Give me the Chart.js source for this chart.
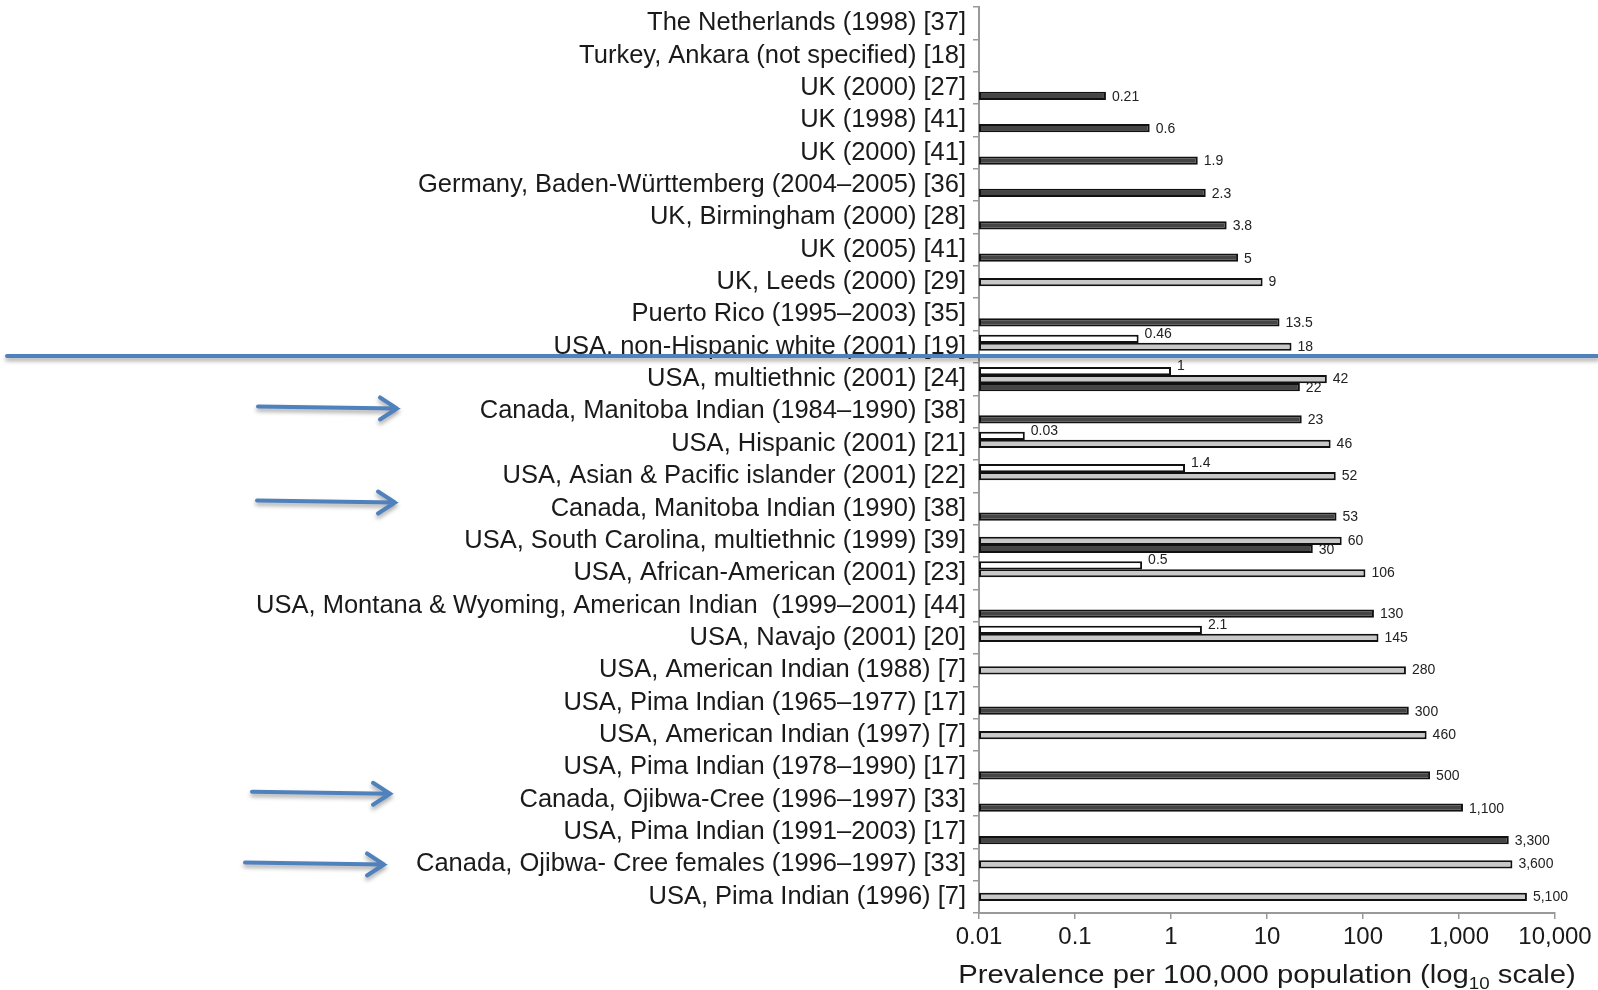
<!DOCTYPE html>
<html>
<head>
<meta charset="utf-8">
<script src="https://cdn.jsdelivr.net/npm/chart.js@4.4.1/dist/chart.umd.min.js"></script>
<style>
  html, body { margin: 0; padding: 0; background: #fff; }
  #wrap { width: 1598px; height: 990px; }
</style>
</head>
<body>
<div id="wrap"><canvas id="myChart" width="1598" height="990"></canvas></div>
<script>
// studies, top to bottom
const studies = [
  'The Netherlands (1998) [37]',
  'Turkey, Ankara (not specified) [18]',
  'UK (2000) [27]',
  'UK (1998) [41]',
  'UK (2000) [41]',
  'Germany, Baden-Württemberg (2004–2005) [36]',
  'UK, Birmingham (2000) [28]',
  'UK (2005) [41]',
  'UK, Leeds (2000) [29]',
  'Puerto Rico (1995–2003) [35]',
  'USA, non-Hispanic white (2001) [19]',
  'USA, multiethnic (2001) [24]',
  'Canada, Manitoba Indian (1984–1990) [38]',
  'USA, Hispanic (2001) [21]',
  'USA, Asian & Pacific islander (2001) [22]',
  'Canada, Manitoba Indian (1990) [38]',
  'USA, South Carolina, multiethnic (1999) [39]',
  'USA, African-American (2001) [23]',
  'USA, Montana & Wyoming, American Indian  (1999–2001) [44]',
  'USA, Navajo (2001) [20]',
  'USA, American Indian (1988) [7]',
  'USA, Pima Indian (1965–1977) [17]',
  'USA, American Indian (1997) [7]',
  'USA, Pima Indian (1978–1990) [17]',
  'Canada, Ojibwa-Cree (1996–1997) [33]',
  'USA, Pima Indian (1991–2003) [17]',
  'Canada, Ojibwa- Cree females (1996–1997) [33]',
  'USA, Pima Indian (1996) [7]'
];

// prevalence per 100,000 (null = no bar)
const whiteBars = [null, null, null, null, null, null, null, null, null, null,
  0.46, 1, null, 0.03, 1.4, null, null, 0.5, null, 2.1,
  null, null, null, null, null, null, null, null];
const grayBars = [null, null, null, null, null, null, null, null, 9, null,
  18, 42, null, 46, 52, null, 60, 106, null, 145,
  280, null, 460, null, null, null, 3600, 5100];
const darkBars = [null, null, 0.21, 0.6, 1.9, 2.3, 3.8, 5, null, 13.5,
  null, 22, 23, null, null, 53, 30, null, 130, null,
  null, 300, null, 500, 1100, 3300, null, null];

const xTicks = [0.01, 0.1, 1, 10, 100, 1000, 10000];

// rows marked with an arrow
const arrowRows = [12, 15, 24, 26];

const FONT = '"Liberation Sans", Arial, Helvetica, sans-serif';
const BLUE = '#4f81bd';

function fmt(v) {
  return v >= 1000 ? v.toLocaleString('en-US') : String(v);
}

const valueLabels = {
  id: 'valueLabels',
  afterDatasetsDraw(chart) {
    const ctx = chart.ctx;
    ctx.save();
    ctx.font = '14px ' + FONT;
    ctx.fillStyle = '#222';
    ctx.textBaseline = 'middle';
    chart.data.datasets.forEach((ds, i) => {
      const meta = chart.getDatasetMeta(i);
      meta.data.forEach((bar, j) => {
        const v = ds.data[j];
        if (v == null) return;
        ctx.fillText(fmt(v), bar.x + 6, bar.y + ds.labelShift);
      });
    });
    ctx.restore();
  }
};

const extras = {
  id: 'extras',
  afterDraw(chart) {
    const ctx = chart.ctx;
    const yScale = chart.scales.y;
    const area = chart.chartArea;

    // axis title with subscript
    ctx.save();
    const cx = (area.left + area.right) / 2;
    const stretch = 1.17;
    const p1 = 'Prevalence per 100,000 population (log';
    const p2 = '10';
    const p3 = ' scale)';
    ctx.font = '25px ' + FONT;
    const w1 = ctx.measureText(p1).width;
    const w3 = ctx.measureText(p3).width;
    ctx.font = '16px ' + FONT;
    const w2 = ctx.measureText(p2).width;
    const total = (w1 + w2 + w3) * stretch;
    ctx.translate(cx - total / 2, 983);
    ctx.scale(stretch, 1);
    ctx.fillStyle = '#1a1a1a';
    ctx.textBaseline = 'alphabetic';
    ctx.font = '25px ' + FONT;
    ctx.fillText(p1, 0, 0);
    ctx.font = '16px ' + FONT;
    ctx.fillText(p2, w1, 6);
    ctx.font = '25px ' + FONT;
    ctx.fillText(p3, w1 + w2, 0);
    ctx.restore();

    // blue divider and arrows
    ctx.save();
    ctx.strokeStyle = BLUE;
    ctx.lineWidth = 4;
    ctx.lineCap = 'round';
    ctx.shadowColor = 'rgba(0,0,0,0.35)';
    ctx.shadowBlur = 4;
    ctx.shadowOffsetY = 3;
    const dividerY = 356;
    ctx.beginPath();
    ctx.moveTo(7, dividerY);
    ctx.lineTo(1598, dividerY);
    ctx.stroke();

    const arrowX = [[258, 397], [257, 395], [252, 390], [245, 384]];
    const arrowDy = [-3, -6, -6, 0];
    arrowRows.forEach((row, k) => {
      const y = yScale.getPixelForValue(row) + arrowDy[k];
      const x0 = arrowX[k][0], x1 = arrowX[k][1];
      ctx.beginPath();
      ctx.moveTo(x0, y - 2);
      ctx.lineTo(x1, y);
      ctx.moveTo(x1 - 17, y - 11);
      ctx.lineTo(x1, y);
      ctx.lineTo(x1 - 17, y + 11);
      ctx.stroke();
    });
    ctx.restore();
  }
};

const barStyle = {
  borderColor: '#111',
  borderWidth: 2,
  borderSkipped: false,
  barPercentage: 1.03,
  categoryPercentage: 0.74
};

const ctx = document.getElementById('myChart').getContext('2d');
const myChart = new Chart(ctx, {
  type: 'bar',
  data: {
    labels: studies,
    datasets: [
      Object.assign({ label: 'white', data: whiteBars, backgroundColor: '#ffffff', labelShift: -5 }, barStyle),
      Object.assign({ label: 'gray', data: grayBars, backgroundColor: '#c8c8c8', labelShift: 0 }, barStyle),
      Object.assign({ label: 'dark', data: darkBars, backgroundColor: '#454545', labelShift: 1 }, barStyle)
    ]
  },
  options: {
    indexAxis: 'y',
    responsive: false,
    devicePixelRatio: 1,
    animation: false,
    layout: { padding: { top: 7, right: 43, left: 0, bottom: 0 } },
    plugins: {
      legend: { display: false },
      tooltip: { enabled: false }
    },
    scales: {
      x: {
        type: 'logarithmic',
        position: 'bottom',
        min: 0.01,
        max: 10000,
        afterBuildTicks: axis => { axis.ticks = xTicks.map(v => ({ value: v })); },
        afterFit: axis => { axis.height = 77; },
        ticks: {
          autoSkip: false,
          maxRotation: 0,
          padding: 4,
          color: '#1a1a1a',
          font: { family: FONT, size: 24 },
          callback: v => fmt(v)
        },
        grid: { drawOnChartArea: false, drawTicks: true, tickLength: 6, color: '#999', lineWidth: 1.5 },
        border: { color: '#999', width: 2 }
      },
      y: {
        type: 'category',
        offset: true,
        afterFit: axis => {
          axis.width = 979;
          axis.paddingTop = 0;
          axis.paddingBottom = 0;
        },
        ticks: {
          autoSkip: false,
          padding: 7,
          color: '#1a1a1a',
          font: { family: FONT, size: 25.5 }
        },
        grid: { offset: true, drawOnChartArea: false, drawTicks: true, tickLength: 6, color: '#999', lineWidth: 1.5 },
        border: { color: '#999', width: 2 }
      }
    }
  },
  plugins: [valueLabels, extras]
});
</script>
</body>
</html>
